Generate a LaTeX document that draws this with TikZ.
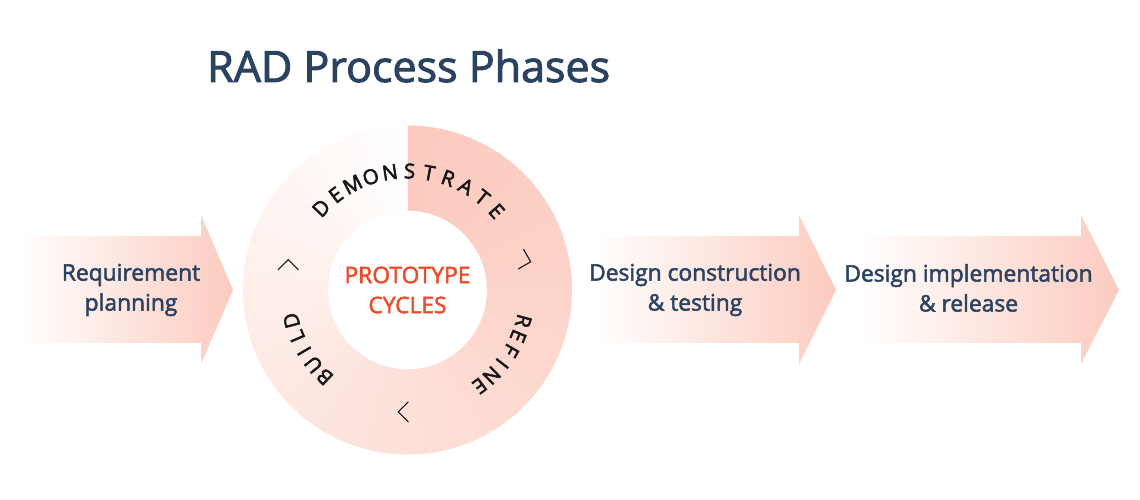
\documentclass[tikz,border=0pt]{standalone}
\usepackage{fontspec}
\setmainfont{Open Sans}
\newfontfamily\semib{Open Sans}[FakeBold=2.2]
\newfontfamily\medf{Open Sans}[FakeBold=2.6]
\usetikzlibrary{calc}
\definecolor{navy}{HTML}{2B4361}
\definecolor{salmon}{HTML}{FCCBBF}
\definecolor{protoc}{HTML}{EE4B2B}
\definecolor{inkc}{HTML}{151515}
\begin{document}
\begin{tikzpicture}[x=1pt,y=1pt,
  lbl/.style={text=navy, font=\semib\fontsize{22.8}{30}\selectfont, align=center, inner sep=0pt},
  ringtxt/.style={text=inkc, font=\medf\fontsize{20.5}{20.5}\selectfont, inner sep=0pt},
  chev/.style={draw=inkc, line width=1.1pt, line cap=round, line join=miter},
  arrowshade/.style={left color=white, right color=salmon}]
\useasboundingbox (0,0) rectangle (1140,500);
\fill[white] (0,0) rectangle (1140,500);
% arrows
\shade[arrowshade] (17,264) -- (201,264) -- (201,285) -- (233,210) -- (201,136) -- (201,157) -- (17,157) -- cycle;
\shade[arrowshade] (593,264) -- (799,264) -- (799,285) -- (836,210) -- (799,136) -- (799,157) -- (593,157) -- cycle;
\shade[arrowshade] (858,264) -- (1081,264) -- (1081,285) -- (1119,210) -- (1081,136) -- (1081,157) -- (858,157) -- cycle;
% ring
\coordinate (C) at (407.5,210);
\foreach \t in {0,2,...,358} {
  \pgfmathsetmacro{\a}{90-\t}
  \pgfmathsetmacro{\b}{max(90-\t-2.6,-270)}
  \pgfmathsetmacro{\p}{100*(1-((\t+1)/362)^1.3)}
  \fill[salmon!\p!white] ([shift={(\a:79.5)}]C) -- ([shift={(\a:164.5)}]C)
     arc[start angle=\a, end angle=\b, radius=164.5pt] -- ([shift={(\b:79.5)}]C)
     arc[start angle=\b, end angle=\a, radius=79.5pt] -- cycle;
}
% ring words
\foreach \ch [count=\i from 0] in {D,E,M,O,N,S,T,R,A,T,E} {
  \pgfmathsetmacro{\a}{136.5-9.5*\i}
  \node[ringtxt, rotate=\a-90] (dem\i) at ([shift={(\a:119)}]C) {\ch};
}
\foreach \ch [count=\i from 0] in {R,E,F,I,N,E} {
  \pgfmathsetmacro{\a}{-15-7.6*\i}
  \node[ringtxt, rotate=\a-90] (ref\i) at ([shift={(\a:120)}]C) {\ch};
}
\foreach \ch [count=\i from 0] in {B,U,I,L,D} {
  \pgfmathsetmacro{\a}{-133.6-7.9*\i}
  \node[ringtxt, rotate=\a-90] (bld\i) at ([shift={(\a:120)}]C) {\ch};
}
% chevrons: position angle / pointing direction
\foreach \ang/\dir in {14/-15,-92/180,168/90} {
  \draw[chev, shift={($(C)+(\ang:122)$)}, rotate=\dir] (-5,10) -- (5,0) -- (-5,-10);
}
% labels
\node[lbl, text=protoc] (proto) at (407.5,210) {PROTOTYPE\\CYCLES};
\node[lbl] (req) at (131,210) {Requirement\\planning};
\node[lbl] (dct) at (695,210) {Design construction\\\& testing};
\node[lbl] (dir) at (968.5,212) {Design implementation\\\& release};
\node[text=navy, font=\semib\fontsize{43}{50}\selectfont, anchor=base west, inner sep=0pt] (title) at (207,418) {RAD Process Phases};
\end{tikzpicture}
\end{document}
